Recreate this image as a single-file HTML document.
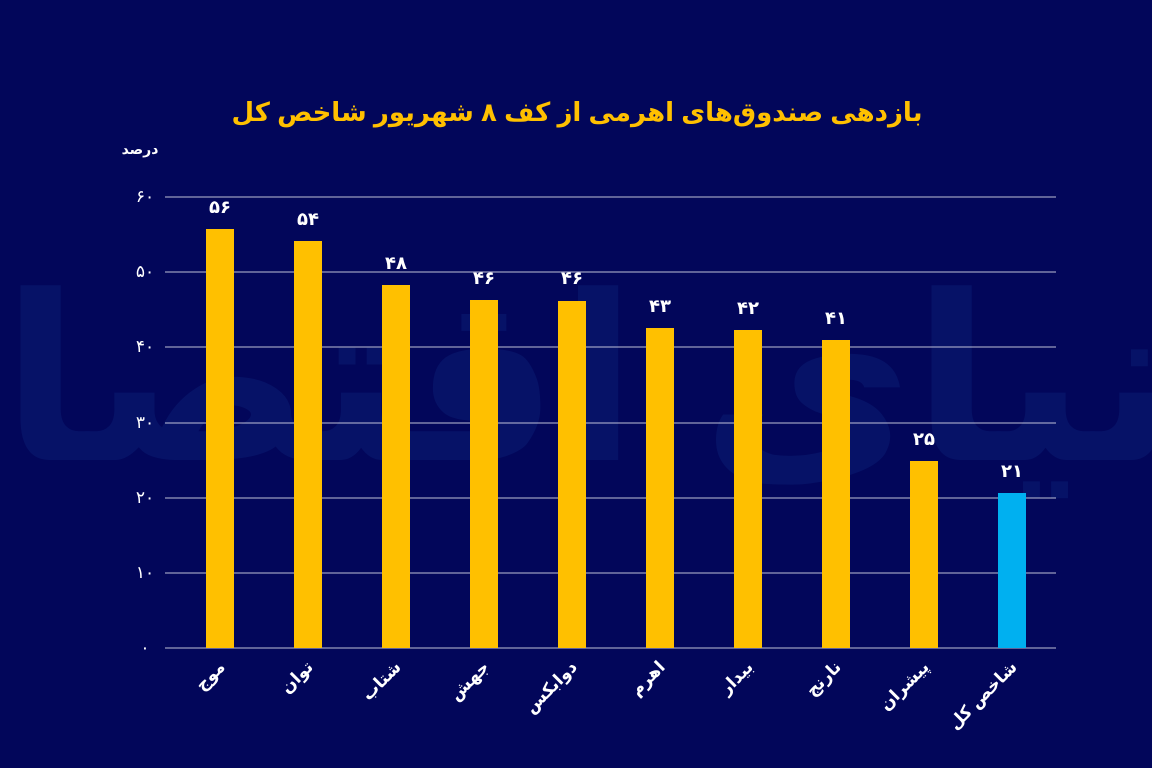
<!DOCTYPE html>
<html><head><meta charset="utf-8"><style>
body{margin:0;background:#02065a;}
svg{display:block}
text{font-family:"Liberation Sans","Noto Sans CJK SC","DejaVu Sans",sans-serif}
</style></head><body>
<svg width="1152" height="768" viewBox="0 0 1152 768" xmlns="http://www.w3.org/2000/svg">
<rect width="1152" height="768" fill="#02065a"/>
<g fill="#0e2a80" opacity="0.35" font-size="230" font-weight="bold">
<text x="590" y="460" text-anchor="middle" direction="rtl">دنیای اقتصاد</text>
</g>
<text x="577" y="121" fill="#ffc000" font-size="26" font-weight="bold" text-anchor="middle" direction="rtl">بازدهی صندوق‌های اهرمی از کف ۸ شهریور شاخص کل</text>
<text x="140" y="154" fill="#fff" font-size="14" font-weight="bold" text-anchor="middle">درصد</text>
<g stroke="#ffffff" stroke-width="0.8">
<line x1="165" x2="1056" y1="648" y2="648"/>
<line x1="165" x2="1056" y1="573" y2="573"/>
<line x1="165" x2="1056" y1="498" y2="498"/>
<line x1="165" x2="1056" y1="423" y2="423"/>
<line x1="165" x2="1056" y1="347" y2="347"/>
<line x1="165" x2="1056" y1="272" y2="272"/>
<line x1="165" x2="1056" y1="197" y2="197"/>
</g>
<g fill="#fff" font-size="17" text-anchor="middle">
<text x="145" y="653">۰</text><text x="145" y="578">۱۰</text><text x="145" y="503">۲۰</text>
<text x="145" y="428">۳۰</text><text x="145" y="352">۴۰</text><text x="145" y="277">۵۰</text><text x="145" y="202">۶۰</text>
</g>
<g fill="#ffc000">
<rect x="206" y="229" width="28" height="419"/>
<rect x="294" y="241" width="28" height="407"/>
<rect x="382" y="285" width="28" height="363"/>
<rect x="470" y="300" width="28" height="348"/>
<rect x="558" y="301" width="28" height="347"/>
<rect x="646" y="328" width="28" height="320"/>
<rect x="734" y="330" width="28" height="318"/>
<rect x="822" y="340" width="28" height="308"/>
<rect x="910" y="461" width="28" height="187"/>
</g>
<rect x="998" y="493" width="28" height="155" fill="#00b0f0"/>
<g fill="#fff" font-size="18" font-weight="bold" text-anchor="middle">
<text x="220" y="213">۵۶</text><text x="308" y="225">۵۴</text><text x="396" y="269">۴۸</text>
<text x="484" y="284">۴۶</text><text x="572" y="284">۴۶</text><text x="660" y="312">۴۳</text>
<text x="748" y="314">۴۲</text><text x="836" y="324">۴۱</text><text x="924" y="445">۲۵</text>
<text x="1012" y="477">۲۱</text>
</g>
<g fill="#fff" font-size="17" font-weight="bold" text-anchor="end">
<text transform="translate(226,668) rotate(-45)">موج</text>
<text transform="translate(314,668) rotate(-45)">توان</text>
<text transform="translate(402,668) rotate(-45)">شتاب</text>
<text transform="translate(490,668) rotate(-45)">جهش</text>
<text transform="translate(578,668) rotate(-45)">دوابکس</text>
<text transform="translate(666,668) rotate(-45)">اهرم</text>
<text transform="translate(754,668) rotate(-45)">بیدار</text>
<text transform="translate(842,668) rotate(-45)">نارنج</text>
<text transform="translate(930,668) rotate(-45)">پیشران</text>
<text transform="translate(1018,668) rotate(-45)">شاخص کل</text>
</g>
</svg>
</body></html>
